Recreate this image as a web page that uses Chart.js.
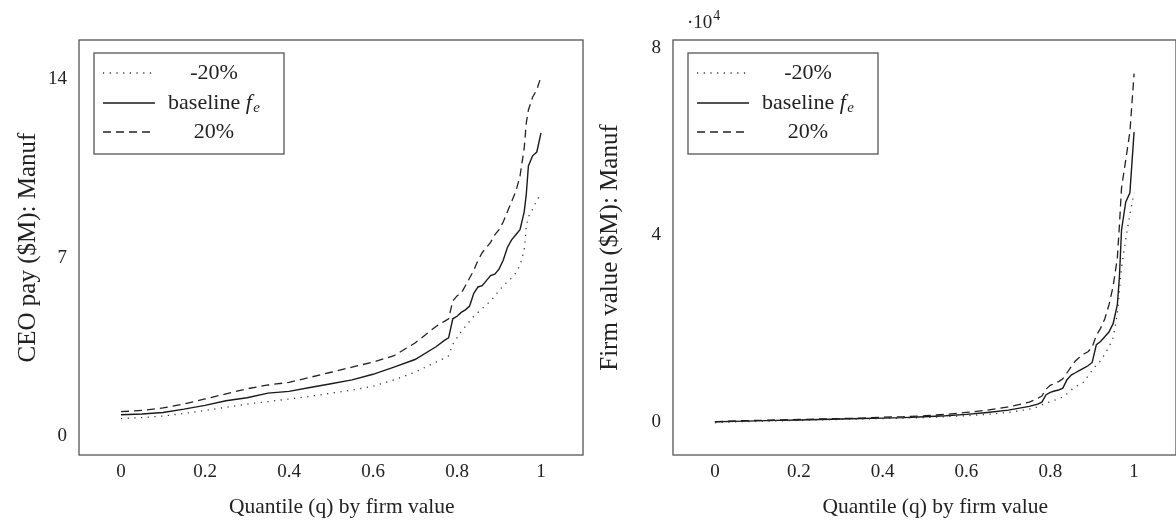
<!DOCTYPE html>
<html>
<head>
<meta charset="utf-8">
<script src="https://cdn.jsdelivr.net/npm/chart.js@4.4.0/dist/chart.umd.min.js"></script>
<style>
  html, body { margin: 0; padding: 0; background: #fff; overflow: hidden; }
  #wrap { position: relative; width: 1176px; height: 524px; }
  .pane { position: absolute; top: 0; height: 524px; }
</style>
</head>
<body>
<div id="wrap">
  <div class="pane" style="left:0;width:590px"><canvas id="payChart"></canvas></div>
  <div class="pane" style="left:594px;width:582px"><canvas id="valueChart"></canvas></div>
</div>
<script>
// Quantile grid shared by all curves
const quantiles = [0, 0.05, 0.1, 0.15, 0.2, 0.25, 0.3, 0.35, 0.4, 0.45, 0.5, 0.55, 0.6, 0.65, 0.7, 0.75,
  0.77, 0.78, 0.79, 0.8, 0.81, 0.82, 0.83, 0.84, 0.85, 0.86, 0.87, 0.88, 0.89, 0.9,
  0.91, 0.92, 0.93, 0.94, 0.95, 0.96, 0.965, 0.97, 0.98, 0.99, 1.0];

// CEO pay ($M), manufacturing
const payLow = [0.68, 0.72, 0.78, 0.88, 1.0, 1.12, 1.25, 1.35, 1.45, 1.55, 1.68, 1.8, 1.95, 2.2, 2.5, 2.9,
  3.05, 3.15, 3.6, 3.85, 4.1, 4.3, 4.5, 4.7, 4.85, 5.0, 5.15, 5.3, 5.5, 5.7,
  5.9, 6.05, 6.2, 6.4, 6.7, 7.3, 8.2, 8.6, 8.9, 9.25, 9.5];
const payBase = [0.83, 0.86, 0.92, 1.05, 1.2, 1.38, 1.5, 1.68, 1.75, 1.9, 2.05, 2.2, 2.42, 2.7, 3.0, 3.5,
  3.75, 3.85, 4.6, 4.7, 4.85, 4.95, 5.1, 5.6, 5.85, 5.9, 6.1, 6.3, 6.35, 6.55,
  6.9, 7.4, 7.7, 7.9, 8.1, 8.8, 9.5, 10.6, 11.0, 11.15, 11.9];
const payHigh = [0.95, 1.0, 1.1, 1.25, 1.45, 1.65, 1.85, 2.0, 2.1, 2.3, 2.5, 2.7, 2.9, 3.15, 3.65, 4.3,
  4.5, 4.6, 5.3, 5.5, 5.6, 5.9, 6.2, 6.5, 6.9, 7.2, 7.4, 7.6, 7.9, 8.1,
  8.4, 8.8, 9.2, 9.6, 10.2, 11.3, 12.3, 12.8, 13.3, 13.6, 14.1];

// Firm value ($M, x 10^4), manufacturing
const valueLow = [-0.02, 0.0, 0.01, 0.02, 0.03, 0.04, 0.05, 0.06, 0.07, 0.08, 0.09, 0.11, 0.13, 0.16, 0.2, 0.27,
  0.32, 0.36, 0.4, 0.43, 0.46, 0.5, 0.53, 0.6, 0.68, 0.75, 0.8, 0.85, 0.98, 1.1,
  1.22, 1.3, 1.45, 1.6, 1.8, 2.3, 2.8, 3.3, 3.9, 4.45, 4.9];
const valueBase = [0, 0.01, 0.02, 0.03, 0.04, 0.05, 0.06, 0.07, 0.08, 0.09, 0.11, 0.13, 0.16, 0.2, 0.25, 0.33,
  0.38, 0.42, 0.58, 0.63, 0.66, 0.68, 0.72, 0.9, 1.0, 1.05, 1.1, 1.15, 1.2, 1.27,
  1.65, 1.72, 1.82, 1.92, 2.1, 2.5, 3.1, 4.1, 4.7, 4.9, 6.2];
const valueHigh = [0, 0.02, 0.03, 0.04, 0.05, 0.06, 0.07, 0.08, 0.1, 0.11, 0.13, 0.16, 0.2, 0.25, 0.32, 0.42,
  0.5, 0.55, 0.7, 0.78, 0.82, 0.86, 0.92, 1.05, 1.18, 1.3, 1.38, 1.45, 1.5, 1.6,
  1.85, 2.0, 2.2, 2.5, 2.9, 3.5, 4.2, 5.0, 5.6, 6.2, 7.45];

// Tick labels and legend text
const xTicks = [0, 0.2, 0.4, 0.6, 0.8, 1];
const payTicks = [0, 7, 14];
const valueTicks = [0, 4, 8];
const seriesLabels = ['-20%', 'baseline f_e', '20%'];

const SERIF = "'Liberation Serif', 'DejaVu Serif', serif";
const INK = '#222';
const LEGEND_SIZE = 22;

// frame round the plot area plus the boxed legend
const framePlugin = {
  id: 'frame',
  afterDraw(chart, args, opts) {
    const { ctx, chartArea: a } = chart;
    ctx.save();
    ctx.strokeStyle = '#555';
    ctx.lineWidth = 1.3;
    ctx.strokeRect(a.left, a.top, a.right - a.left, a.bottom - a.top);

    // legend box
    const bx = a.left + 15, by = a.top + 13, bw = 190, bh = 101;
    ctx.fillStyle = '#fff';
    ctx.fillRect(bx, by, bw, bh);
    ctx.strokeRect(bx, by, bw, bh);
    const rows = [20, 50, 79];
    ctx.textBaseline = 'middle';
    chart.data.datasets.forEach((ds, i) => {
      const y = by + rows[i];
      ctx.save();
      ctx.strokeStyle = ds.borderColor;
      ctx.lineWidth = ds.borderWidth;
      ctx.setLineDash(ds.borderDash || []);
      ctx.beginPath();
      ctx.moveTo(bx + 9, y);
      ctx.lineTo(bx + 61, y);
      ctx.stroke();
      ctx.restore();

      ctx.fillStyle = INK;
      const cx = bx + 120;
      const parts = ds.label.split(' f_');
      const big = LEGEND_SIZE + 'px ' + SERIF;
      const bigIt = 'italic ' + big;
      const small = 'italic ' + Math.round(LEGEND_SIZE * 0.7) + 'px ' + SERIF;
      if (parts.length === 2) {
        ctx.font = big;
        const w1 = ctx.measureText(parts[0] + ' ').width;
        ctx.font = bigIt;
        const w2 = ctx.measureText('f').width + 1.5;
        ctx.font = small;
        const w3 = ctx.measureText(parts[1]).width;
        let x = cx - (w1 + w2 + w3) / 2;
        ctx.textAlign = 'left';
        ctx.font = big;
        ctx.fillText(parts[0] + ' ', x, y);
        x += w1;
        ctx.font = bigIt;
        ctx.fillText('f', x, y);
        x += w2;
        ctx.font = small;
        ctx.fillText(parts[1], x, y + 5);
      } else {
        ctx.font = big;
        ctx.textAlign = 'center';
        ctx.fillText(ds.label, cx, y);
      }
    });

    // exponent label for the firm value axis
    if (opts.exponent) {
      ctx.fillStyle = INK;
      ctx.textAlign = 'left';
      ctx.textBaseline = 'alphabetic';
      ctx.font = '19px ' + SERIF;
      ctx.fillText('\u00b710', a.left + 14, 28);
      const w = ctx.measureText('\u00b710').width;
      ctx.font = '14px ' + SERIF;
      ctx.fillText(opts.exponent, a.left + 14 + w + 1, 20);
    }
    ctx.restore();
  }
};

function toPoints(values) {
  return quantiles.map((q, i) => ({ x: q, y: values[i] }));
}

function makeChart(id, low, base, high, yTicks, yMin, yMax, yTitle, yTitlePad, rightPad, exponent) {
  return new Chart(document.getElementById(id), {
    type: 'line',
    data: {
      datasets: [
        { label: seriesLabels[0], data: toPoints(low), borderColor: '#333', borderWidth: 1.3, borderDash: [1.2, 5.5] },
        { label: seriesLabels[1], data: toPoints(base), borderColor: '#1a1a1a', borderWidth: 1.4 },
        { label: seriesLabels[2], data: toPoints(high), borderColor: '#222', borderWidth: 1.3, borderDash: [8, 5] }
      ]
    },
    options: {
      responsive: true,
      maintainAspectRatio: false,
      animation: false,
      events: [],
      layout: { padding: { top: 40, right: rightPad, left: 0, bottom: 0 } },
      elements: { point: { radius: 0 }, line: { tension: 0 } },
      plugins: {
        legend: { display: false },
        tooltip: { enabled: false },
        frame: { exponent: exponent }
      },
      scales: {
        x: {
          type: 'linear',
          min: -0.1,
          max: 1.1,
          afterBuildTicks: s => { s.ticks = xTicks.map(v => ({ value: v })); },
          afterFit: s => { s.height = 69; },
          grid: { display: false, drawTicks: false },
          border: { display: false },
          ticks: { padding: 6, color: INK, font: { family: SERIF, size: 19 }, callback: v => String(v) },
          title: { display: true, text: '\u2002\u2002Quantile (q) by firm value', color: INK,
                   font: { family: SERIF, size: 21.5 }, padding: { bottom: 4 } }
        },
        y: {
          type: 'linear',
          min: yMin,
          max: yMax,
          afterBuildTicks: s => { s.ticks = yTicks.map(v => ({ value: v })); },
          afterFit: s => { s.width = 79; },
          grid: { display: false, drawTicks: false },
          border: { display: false },
          ticks: { padding: 12, color: INK, font: { family: SERIF, size: 19 }, callback: v => String(v) },
          title: { display: true, text: yTitle, color: INK,
                   font: { family: SERIF, size: 25 }, padding: { top: yTitlePad } }
        }
      }
    },
    plugins: [framePlugin]
  });
}

makeChart('payChart', payLow, payBase, payHigh, payTicks, -0.75, 15.55, 'CEO pay ($M): Manuf', 13, 7, null);
makeChart('valueChart', valueLow, valueBase, valueHigh, valueTicks, -0.71, 8.17, 'Firm value ($M): Manuf', 1, 0, '4');
</script>
</body>
</html>
